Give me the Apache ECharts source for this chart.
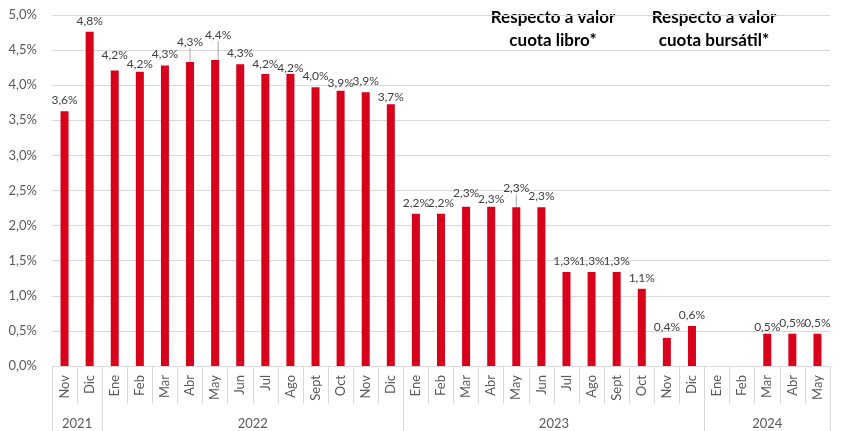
<!DOCTYPE html>
<html>
<head>
<meta charset="utf-8">
<script src="https://cdn.jsdelivr.net/npm/echarts@6/dist/echarts.min.js"></script>
<style>
  html, body { margin: 0; padding: 0; background: #fff; }
  #view { width: 853px; height: 431px; }
</style>
</head>
<body>
<div id="view"></div>
<script>
var myChart = echarts.init(document.getElementById('view'));

/* meses (eje inferior) */
var months = ['Nov', 'Dic',
  'Ene', 'Feb', 'Mar', 'Abr', 'May', 'Jun', 'Jul', 'Ago', 'Sept', 'Oct', 'Nov', 'Dic',
  'Ene', 'Feb', 'Mar', 'Abr', 'May', 'Jun', 'Jul', 'Ago', 'Sept', 'Oct', 'Nov', 'Dic',
  'Ene', 'Feb', 'Mar', 'Abr', 'May'];
/* años y cuántos meses abarca cada uno */
var years = ['2021', '2022', '2023', '2024'];
var yearSpan = [2, 12, 12, 5];

/* valores en % */
var values = [3.63, 4.76,
  4.21, 4.19, 4.28, 4.33, 4.36, 4.30, 4.16, 4.16, 3.97, 3.92, 3.90, 3.73,
  2.17, 2.17, 2.27, 2.27, 2.26, 2.26, 1.34, 1.34, 1.34, 1.10, 0.40, 0.57,
  null, null, 0.46, 0.46, 0.46];

var yTicks = { min: 0, max: 5, step: 0.5 };

var grey = '#595959';
var labelGrey = '#404040';
var gridGrey = '#d9d9d9';
var font = 'Lato';

// bordes y centros de cada año sobre un eje de valores 0..31
var yearEdges = [0], yearCenters = [];
yearSpan.forEach(function (n, i) {
  var start = yearEdges[i];
  yearEdges.push(start + n);
  yearCenters.push(start + n / 2);
});

function pct(v) {
  return v.toFixed(1).replace('.', ',') + '%';
}

// ajustes de algunas etiquetas (las que van escalonadas); line = con guía
var labelMove = {
  2: { dy: -4 }, 3: { dy: 3 }, 5: { dy: -9, line: true }, 6: { dy: -14, dx: 3, line: true },
  8: { dy: 1 }, 9: { dy: 5 }, 11: { dy: 3 }, 13: { dy: 4 },
  16: { dy: -3 }, 17: { dy: 3 }, 18: { dy: -8, line: true }, 28: { dy: 4 }
};

var barData = values.map(function (v, i) {
  var m = labelMove[i];
  return { value: v, labelLine: { show: !!(m && m.line) } };
});

var option = {
  animation: false,
  textStyle: { fontFamily: font },
  grid: { left: 52, right: 23, top: 15, bottom: 65, containLabel: false },
  xAxis: [{
    type: 'category',
    data: months,
    position: 'bottom',
    axisLine: { lineStyle: { color: gridGrey } },
    axisTick: { show: true, interval: 0, length: 38, lineStyle: { color: gridGrey } },
    axisLabel: { interval: 0, rotate: 90, margin: 9, color: grey, fontSize: 13, fontFamily: font }
  }, {
    type: 'value',
    min: 0,
    max: months.length,
    position: 'bottom',
    offset: 38,
    axisLine: { show: false },
    splitLine: { show: false },
    axisTick: { show: true, customValues: yearEdges, length: 28, lineStyle: { color: gridGrey } },
    axisLabel: {
      customValues: yearCenters,
      margin: 13,
      color: grey,
      fontSize: 13,
      fontFamily: font,
      formatter: function (v) {
        var i = yearCenters.indexOf(v);
        return i >= 0 ? years[i] : '';
      }
    }
  }],
  yAxis: {
    type: 'value',
    min: yTicks.min,
    max: yTicks.max,
    interval: yTicks.step,
    axisLine: { show: false },
    axisTick: { show: false },
    splitLine: { lineStyle: { color: gridGrey } },
    axisLabel: { color: grey, fontSize: 13, fontFamily: font, margin: 15, formatter: pct }
  },
  series: [{
    type: 'bar',
    data: barData,
    barWidth: 8,
    itemStyle: { color: '#d9001b' },
    label: {
      show: true,
      position: 'top',
      distance: 5,
      color: labelGrey,
      fontSize: 12,
      fontFamily: font,
      formatter: function (p) { return p.value == null ? '' : pct(p.value); }
    },
    labelLine: { show: false, lineStyle: { color: '#a6a6a6', width: 1 } },
    labelLayout: function (p) {
      var m = labelMove[p.dataIndex];
      if (!m) return {};
      return { dx: m.dx || 0, dy: m.dy || 0 };
    }
  }],
  graphic: [{
    type: 'text',
    x: 553, y: 6,
    style: {
      text: 'Respecto a valor\ncuota libro*',
      font: 'bold 17px Lato',
      fill: '#000',
      align: 'center',
      lineHeight: 23
    }
  }, {
    type: 'text',
    x: 714, y: 6,
    style: {
      text: 'Respecto a valor\ncuota bursátil*',
      font: 'bold 17px Lato',
      fill: '#000',
      align: 'center',
      lineHeight: 23
    }
  }]
};

myChart.setOption(option);
</script>
</body>
</html>
